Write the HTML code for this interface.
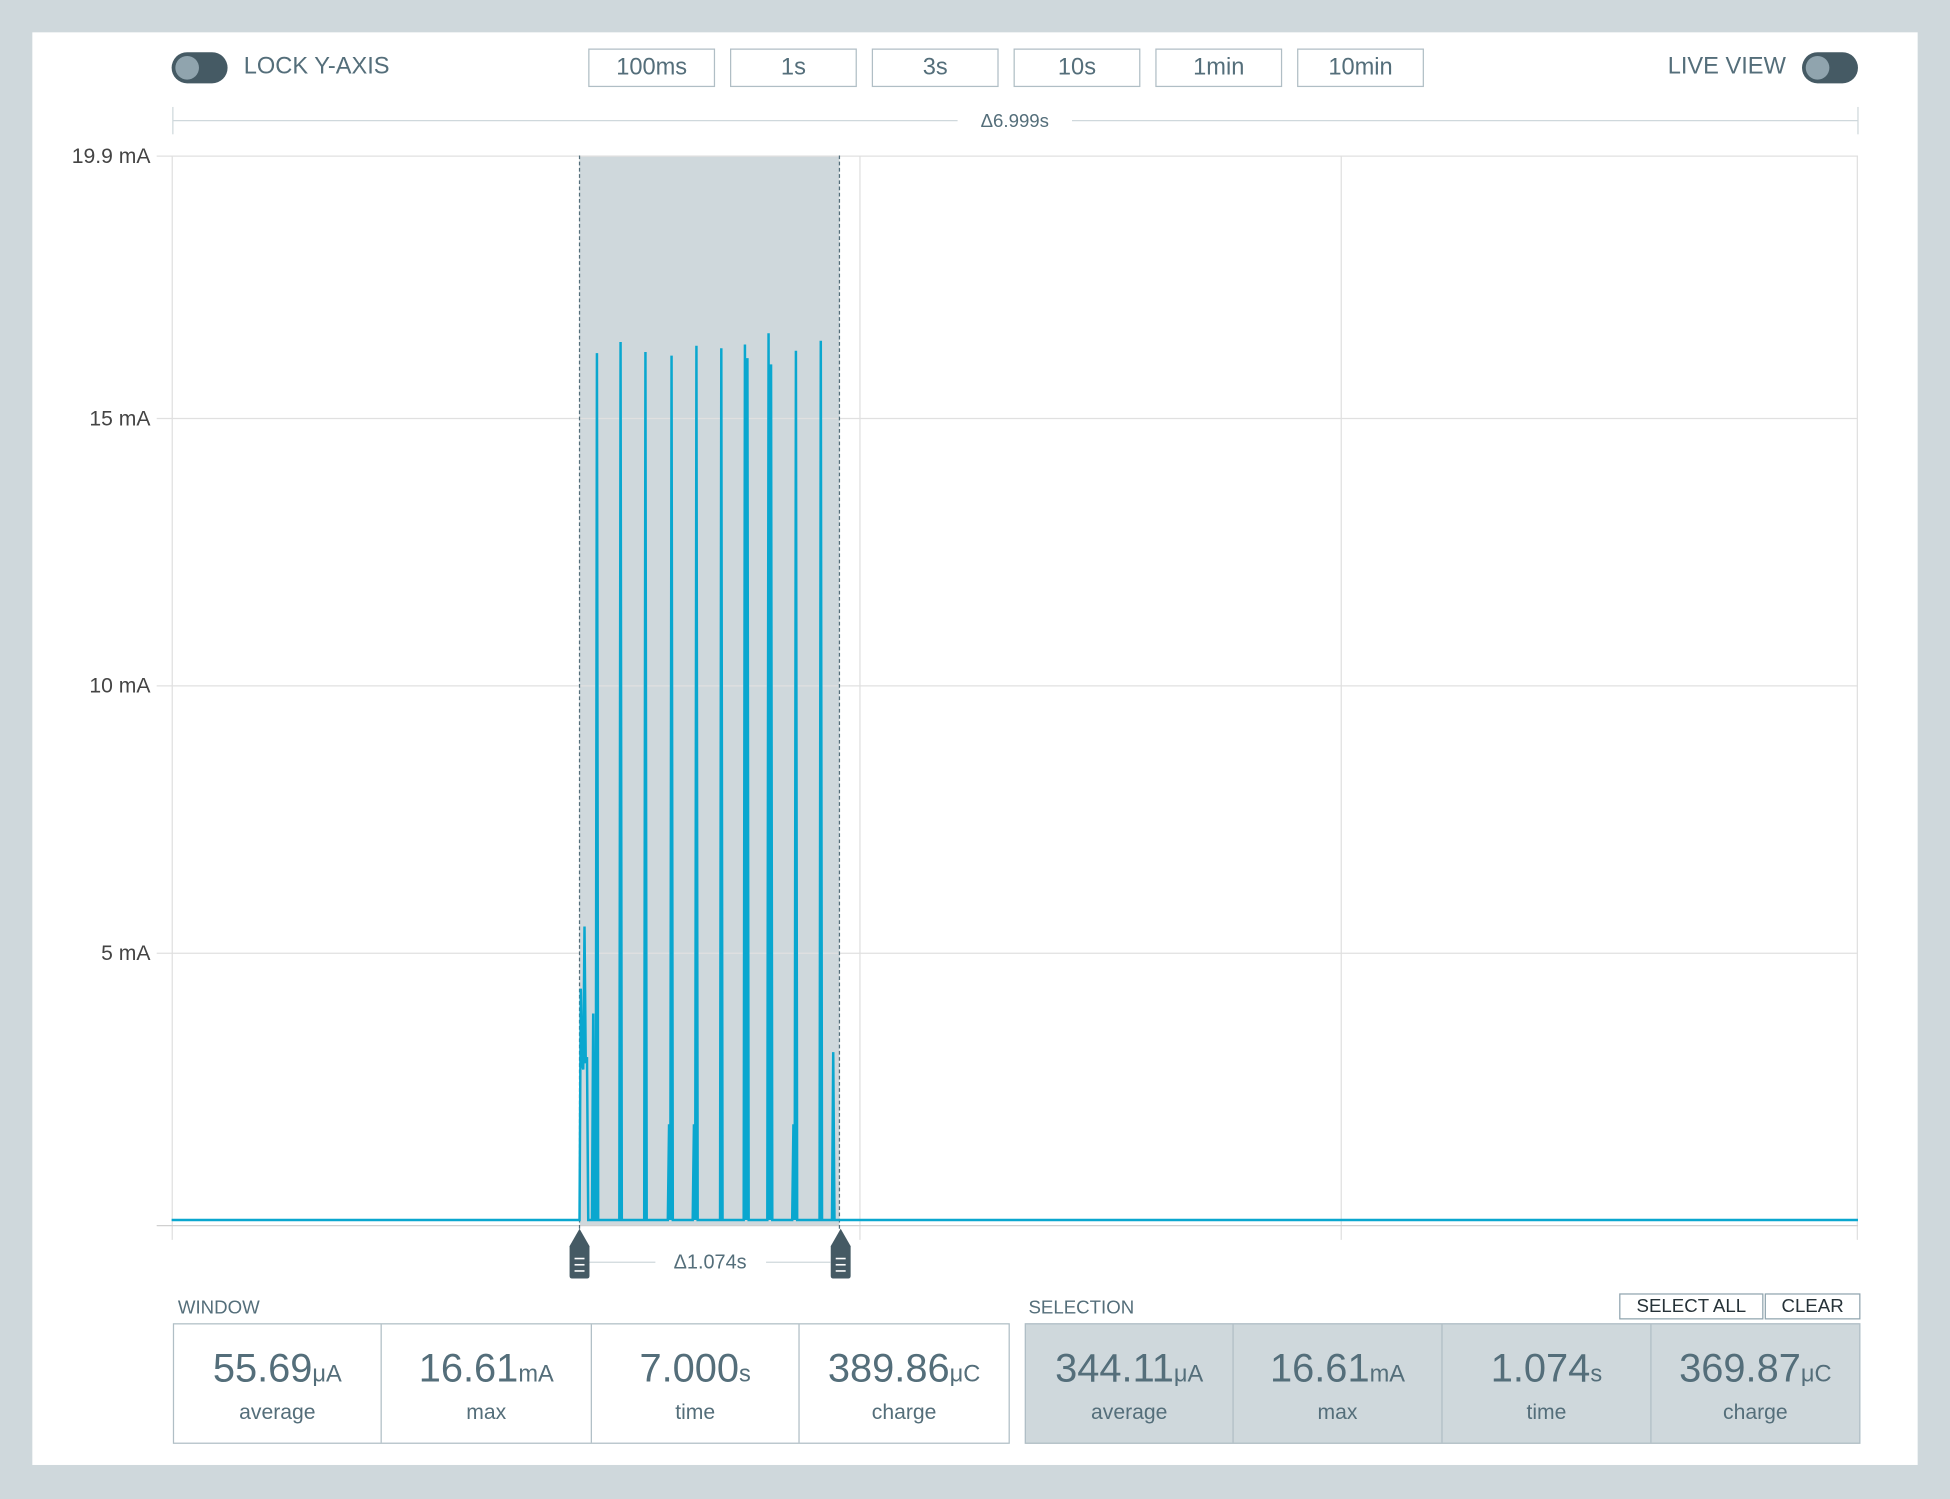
<!DOCTYPE html>
<html><head><meta charset="utf-8"><style>
html,body{margin:0;padding:0;background:#cfd8dc;width:1950px;height:1498px;overflow:hidden;font-family:"Liberation Sans",sans-serif;color:#546e7a}
#w{position:absolute;left:0;top:0;width:1568px;height:1205px;transform:scale(1.24362);transform-origin:0 0}
.panel{position:absolute;left:26px;top:26px;width:1516px;height:1152px;background:#fff}
.a{position:absolute}
.tog{position:absolute;width:45px;height:25px;border-radius:13px;background:#455a64}
.tog i{position:absolute;left:3px;top:3px;width:19px;height:19px;border-radius:50%;background:#90a4ae}
.btn{position:absolute;top:39px;width:100px;height:29px;border:1px solid #b0bec5;text-align:center;line-height:29px;font-size:19px;color:#546e7a}
.tbl{position:absolute;top:1064px;height:95px;border:1px solid #b0bec5;display:flex}
.c{border-right:1px solid #b0bec5;text-align:center;box-sizing:border-box}
.c:last-child{border-right:none}
.v{font-size:32px;margin-top:17px;line-height:36px}
.v small{font-size:19px}
.l{font-size:17px;margin-top:2px}
.sb{position:absolute;top:1040px;height:19px;border:1px solid #90a4ae;font-size:15px;line-height:19px;text-align:center;color:#263238}
</style></head><body><div id="w">
<div class="panel"></div>
<div class="tog" style="left:138px;top:42px"><i></i></div>
<div class="a" style="left:196px;top:43px;font-size:19px">LOCK Y-AXIS</div>
<div class="btn" style="left:473px">100ms</div>
<div class="btn" style="left:587px">1s</div>
<div class="btn" style="left:701px">3s</div>
<div class="btn" style="left:815px">10s</div>
<div class="btn" style="left:929px">1min</div>
<div class="btn" style="left:1043px">10min</div>
<div class="a" style="left:1341px;top:43px;font-size:19px">LIVE VIEW</div>
<div class="tog" style="left:1449px;top:42px"><i></i></div>
<svg class="a" style="left:0;top:0" width="1568" height="1040">
<g stroke="#cfd8dc" stroke-width="1">
<line x1="139" y1="86" x2="139" y2="108"/><line x1="1494" y1="86" x2="1494" y2="108"/>
<line x1="139" y1="97" x2="770" y2="97"/><line x1="862" y1="97" x2="1494" y2="97"/>
</g>
<text x="816" y="102" font-size="15" fill="#546e7a" text-anchor="middle">Δ6.999s</text>
<rect x="466" y="125" width="209" height="860" fill="#cfd8dc"/>
<g stroke="#e0e0e0" stroke-width="1">
<line x1="126" y1="125.5" x2="1494" y2="125.5"/>
<line x1="126" y1="336.5" x2="1494" y2="336.5"/>
<line x1="126" y1="551.5" x2="1494" y2="551.5"/>
<line x1="126" y1="766.5" x2="1494" y2="766.5"/>
<line x1="138.5" y1="125" x2="138.5" y2="997"/>
<line x1="691.5" y1="125" x2="691.5" y2="997"/>
<line x1="1078.5" y1="125" x2="1078.5" y2="997"/>
<line x1="1493.5" y1="125" x2="1493.5" y2="997"/>
<line x1="126" y1="985.5" x2="1494" y2="985.5" stroke="#d0d0d0"/>
</g>
<g font-size="17" fill="#444" text-anchor="end">
<text x="121" y="131">19.9 mA</text><text x="121" y="342">15 mA</text>
<text x="121" y="557">10 mA</text><text x="121" y="772">5 mA</text>
</g>
<g stroke="#546e7a" stroke-width="1" stroke-dasharray="3,2">
<line x1="466" y1="125" x2="466" y2="990"/><line x1="675" y1="125" x2="675" y2="990"/>
</g>
<polyline fill="none" stroke="#0aa7cf" stroke-width="2" points="138,981 466,981 467,795 468,855 469,860 470,745 471,855 472,850 473,981 476,981 477,815 478,981 479,981 480,284 481,981 498,981 499,275 500,981 518,981 519,283 520,981 537,981 538,904 539,981 540,286 541,981 557,981 558,904 559,981 560,278 561,981 579,981 580,280 581,981 598,981 599,277 600,981 601,288 602,981 617,981 618,268 619,981 620,293 621,981 637,981 638,904 639,981 640,282 641,981 659,981 660,274 661,981 669,981 670,846 671,981 1494,981"/>
<g fill="#455a64">
<path d="M466,988 L474,1002 L474,1026 Q474,1028 472,1028 L460,1028 Q458,1028 458,1026 L458,1002 Z"/>
<path d="M676,988 L684,1002 L684,1026 Q684,1028 682,1028 L670,1028 Q668,1028 668,1026 L668,1002 Z"/>
</g>
<g stroke="#fff" stroke-width="1.3">
<line x1="462" y1="1012" x2="470" y2="1012"/><line x1="462" y1="1017" x2="470" y2="1017"/><line x1="462" y1="1022" x2="470" y2="1022"/>
<line x1="672" y1="1012" x2="680" y2="1012"/><line x1="672" y1="1017" x2="680" y2="1017"/><line x1="672" y1="1022" x2="680" y2="1022"/>
</g>
<g stroke="#cfd8dc"><line x1="474" y1="1015" x2="527" y2="1015"/><line x1="616" y1="1015" x2="668" y2="1015"/></g>
<text x="571" y="1020" font-size="16" fill="#546e7a" text-anchor="middle">Δ1.074s</text>
</svg>
<div class="a" style="left:143px;top:1043px;font-size:15px">WINDOW</div>
<div class="a" style="left:827px;top:1043px;font-size:15px">SELECTION</div>
<div class="sb" style="left:1302px;width:114px">SELECT ALL</div>
<div class="sb" style="left:1419px;width:75px">CLEAR</div>
<div class="tbl" style="left:139px;width:671px;background:#fff">
<div class="c" style="width:167px"><div class="v">55.69<small>μA</small></div><div class="l">average</div></div>
<div class="c" style="width:169px"><div class="v">16.61<small>mA</small></div><div class="l">max</div></div>
<div class="c" style="width:167px"><div class="v">7.000<small>s</small></div><div class="l">time</div></div>
<div class="c" style="width:168px"><div class="v">389.86<small>μC</small></div><div class="l">charge</div></div>
</div>
<div class="tbl" style="left:824px;width:670px;background:#cfd8dc">
<div class="c" style="width:167px"><div class="v">344.11<small>μA</small></div><div class="l">average</div></div>
<div class="c" style="width:168px"><div class="v">16.61<small>mA</small></div><div class="l">max</div></div>
<div class="c" style="width:168px"><div class="v">1.074<small>s</small></div><div class="l">time</div></div>
<div class="c" style="width:167px"><div class="v">369.87<small>μC</small></div><div class="l">charge</div></div>
</div>
</div></body></html>
